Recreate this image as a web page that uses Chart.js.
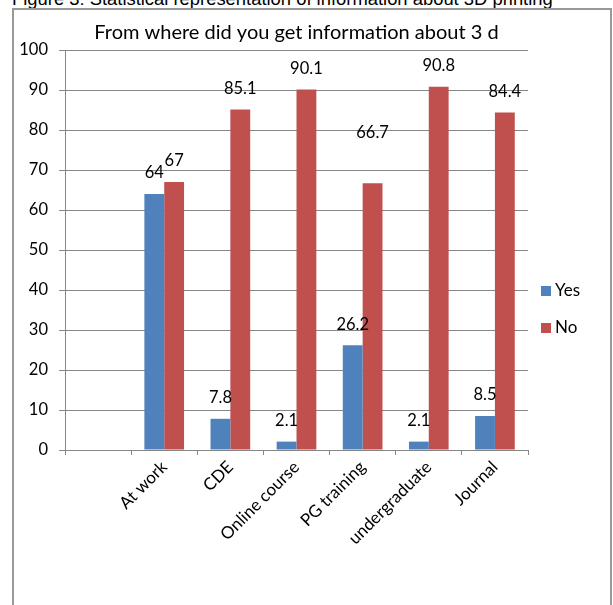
<!DOCTYPE html>
<html>
<head>
<meta charset="utf-8">
<script src="https://cdn.jsdelivr.net/npm/chart.js@4.4.0/dist/chart.umd.min.js"></script>
<style>
  html, body { margin: 0; padding: 0; background: #fff; overflow: hidden; }
  #page { position: relative; width: 613px; height: 605px; }
  #caption {
    position: absolute; left: 12px; top: -12px; white-space: nowrap;
    font-family: "Liberation Sans", Arial, sans-serif; font-size: 18.4px; line-height: normal; color: #000;
  }
  #frame {
    position: absolute; left: 12px; top: 8px; width: 600px; height: 620px;
    border: 2px solid #999; box-sizing: border-box;
  }
  #chartCanvas { position: absolute; left: 0; top: 0; }
</style>
</head>
<body>
<div id="page">
  <div id="caption">Figure 3: Statistical representation of information about 3D printing</div>
  <div id="frame"></div>
  <canvas id="chartCanvas" width="613" height="605"></canvas>
</div>
<script>
// --- data ---
const categories = ["", "At work", "CDE", "Online course", "PG training", "undergraduate", "Journal"];
const yesValues = [null, 64, 7.8, 2.1, 26.2, 2.1, 8.5];
const noValues = [null, 67, 85.1, 90.1, 66.7, 90.8, 84.4];
const seriesNames = ["Yes", "No"];
const yTicks = [0, 10, 20, 30, 40, 50, 60, 70, 80, 90, 100];

// extra lift (px) for labels that sit higher than the rest
const labelLift = [
  [0, 0, 0, 0, 0, 0, 0],
  [0, 0, 0, 0, 30, 0, 0]
];

const colors = ["#4F81BD", "#C0504D"];
const gridColor = "#868686";
const FONT = "Lato";

// value labels above each bar
const barLabels = {
  id: "barLabels",
  afterDatasetsDraw(chart) {
    const ctx = chart.ctx;
    ctx.save();
    ctx.font = `16.5px ${FONT}`;
    ctx.fillStyle = "#000";
    ctx.textAlign = "center";
    ctx.textBaseline = "middle";
    chart.data.datasets.forEach((ds, di) => {
      chart.getDatasetMeta(di).data.forEach((bar, i) => {
        const v = ds.data[i];
        if (v == null) return;
        ctx.fillText(String(v), bar.x, bar.y - 21 - labelLift[di][i]);
      });
    });
    ctx.restore();
  }
};

// legend on the right, Excel style
const sideLegend = {
  id: "sideLegend",
  afterDraw(chart) {
    const ctx = chart.ctx;
    ctx.save();
    ctx.font = `17px ${FONT}`;
    ctx.textBaseline = "middle";
    chart.data.datasets.forEach((ds, i) => {
      const y = 291 + i * 37;
      ctx.fillStyle = ds.backgroundColor;
      ctx.fillRect(541, y - 5, 10, 10);
      ctx.fillStyle = "#000";
      ctx.fillText(ds.label, 555, y);
    });
    ctx.restore();
  }
};

function draw() {
  new Chart(document.getElementById("chartCanvas"), {
    type: "bar",
    data: {
      labels: categories,
      datasets: [
        { label: seriesNames[0], data: yesValues, backgroundColor: colors[0] },
        { label: seriesNames[1], data: noValues, backgroundColor: colors[1] }
      ]
    },
    options: {
      responsive: false,
      animation: false,
      layout: { padding: { left: 0, right: 85, top: 0, bottom: 0 } },
      datasets: { bar: { categoryPercentage: 0.6, barPercentage: 1 } },
      plugins: {
        legend: { display: false },
        tooltip: { enabled: false },
        title: {
          display: true,
          fullSize: false,
          text: "From where did you get information about 3 d",
          color: "#000",
          font: { family: FONT, size: 20, weight: "normal" },
          padding: { top: 21, bottom: 5 }
        }
      },
      scales: {
        x: {
          grid: { drawOnChartArea: false, drawTicks: true, tickLength: 5, color: gridColor },
          border: { color: gridColor },
          ticks: {
            color: "#000",
            font: { family: FONT, size: 17 },
            maxRotation: 45, minRotation: 45,
            padding: 2
          },
          afterFit(scale) { scale.height = 155; }
        },
        y: {
          min: 0, max: 100,
          afterBuildTicks(scale) { scale.ticks = yTicks.map(v => ({ value: v })); },
          grid: { color: gridColor, tickLength: 6 },
          border: { color: gridColor },
          ticks: {
            color: "#000",
            font: { family: FONT, size: 16.5 },
            padding: 11
          },
          afterFit(scale) { scale.width = 65; }
        }
      }
    },
    plugins: [barLabels, sideLegend]
  });
}

document.fonts.load(`16px ${FONT}`).then(draw, draw);
</script>
</body>
</html>
